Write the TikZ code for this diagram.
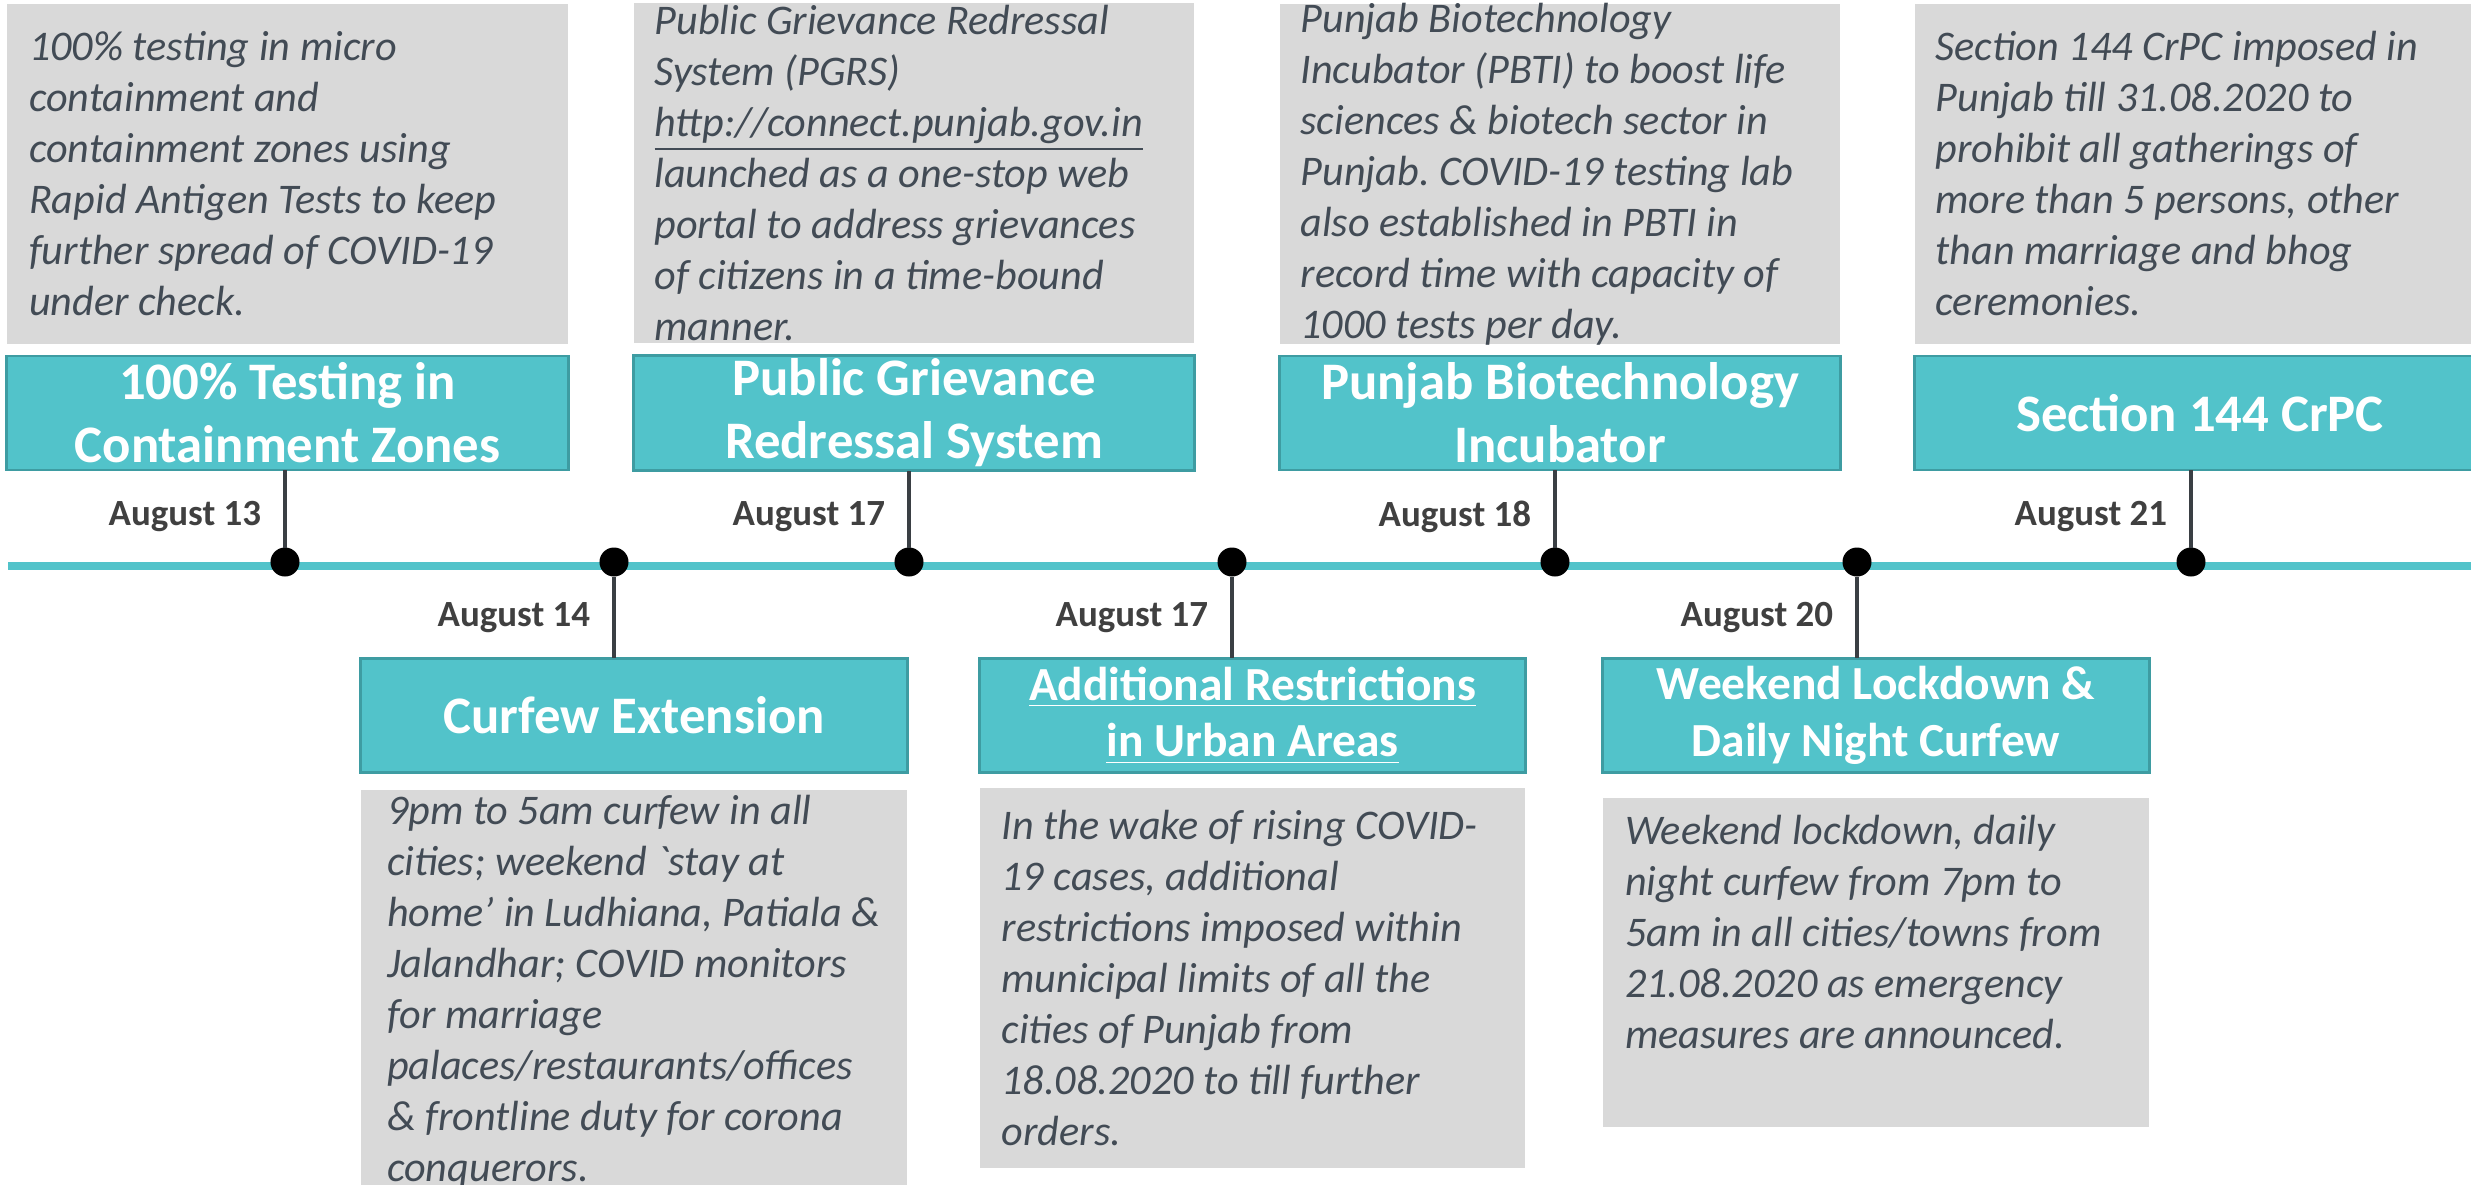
\documentclass[tikz,border=0pt]{standalone}
\usepackage{fontspec}
\setmainfont{Carlito}
\usepackage{xcolor}
\usetikzlibrary{positioning}
\frenchspacing
\definecolor{tealfill}{HTML}{52C3CA}
\definecolor{tealedge}{HTML}{3E9CA2}
\definecolor{notegrey}{HTML}{D9D9D9}
\definecolor{notetext}{HTML}{424B55}
\definecolor{datetext}{HTML}{404040}
\definecolor{stemgrey}{HTML}{3A3F44}
\tikzset{title node/.style={rectangle,fill=tealfill,draw=tealedge,line width=0.8pt,minimum height=1.14cm,
    inner sep=1pt,outer sep=0pt,align=center,text=white,font=\fontsize{15}{17.9}\selectfont\bfseries},
  small title/.style={font=\fontsize{13.5}{16.2}\selectfont\bfseries},
  note node/.style={rectangle,fill=notegrey,minimum height=3.4cm,inner sep=0pt,outer sep=0pt},
  text node/.style={inner sep=0pt,align=left,text=notetext,font=\fontsize{12}{14.5}\selectfont\itshape},
  date node/.style={inner sep=0pt,text=datetext,font=\fontsize{10.5}{12.6}\selectfont\bfseries},
  dot node/.style={circle,fill=black,minimum size=0.29cm,inner sep=0pt,outer sep=0pt},
  stem line/.style={draw=stemgrey,line width=1.1pt},
  time line/.style={draw=tealfill,line width=2pt}}

\begin{document}
\begin{tikzpicture}[x=0.01cm,y=-0.01cm]
  \useasboundingbox (0,0) rectangle (2471,1184);
  % timeline
  \draw[time line] (8,566) -- (2490,566);
  \node[dot node] (d1) at (285,562) {};
  \node[dot node] (d2) at (614,562) {};
  \node[dot node] (d3) at (909,562) {};
  \node[dot node] (d4) at (1232,562) {};
  \node[dot node] (d5) at (1555,562) {};
  \node[dot node] (d6) at (1857,562) {};
  \node[dot node] (d7) at (2191,562) {};
  % titles above
  \node[title node, minimum width=5.61cm] (t1) at (287.5,413) {100\% Testing in\\Containment Zones};
  \node[title node, minimum width=5.60cm] (t3) at (914,413) {Public Grievance\\Redressal System};
  \node[title node, minimum width=5.60cm] (t5) at (1560,413) {Punjab Biotechnology\\Incubator};
  \node[title node, minimum width=5.70cm] (t7) at (2200,413) {Section 144 CrPC};
  % titles below
  \node[title node, minimum width=5.46cm] (t2) at (634,715.5) {Curfew Extension};
  \node[title node, small title, minimum width=5.45cm] (t4) at (1252.5,715.5) {\underline{Additional Restrictions}\\\underline{in Urban Areas}};
  \node[title node, small title, minimum width=5.46cm] (t6) at (1876,715.5) {Weekend Lockdown \&\\Daily Night Curfew};
  % stems and dates
  \draw[stem line] (d1) -- (d1 |- t1.south) node[date node, midway, left=0.22cm, yshift=-0.08cm] {August 13};
  \draw[stem line] (d3) -- (d3 |- t3.south) node[date node, midway, left=0.22cm, yshift=-0.08cm] {August 17};
  \draw[stem line] (d5) -- (d5 |- t5.south) node[date node, midway, left=0.22cm, yshift=-0.08cm] {August 18};
  \draw[stem line] (d7) -- (d7 |- t7.south) node[date node, midway, left=0.22cm, yshift=-0.08cm] {August 21};
  \draw[stem line] (d2) -- (d2 |- t2.north) node[date node, midway, left=0.22cm] {August 14};
  \draw[stem line] (d4) -- (d4 |- t4.north) node[date node, midway, left=0.22cm] {August 17};
  \draw[stem line] (d6) -- (d6 |- t6.north) node[date node, midway, left=0.22cm] {August 20};
  % notes
  \node[note node, minimum width=5.60cm, above=0.12cm of t1] (n1) {};
  \node[note node, minimum width=5.60cm, above=0.12cm of t3] (n3) {};
  \node[note node, minimum width=5.60cm, above=0.12cm of t5] (n5) {};
  \node[note node, minimum width=5.70cm, above=0.12cm of t7] (n7) {};
  \node[note node, minimum width=5.45cm, minimum height=4.05cm, below=0.17cm of t2] (n2) {};
  \node[note node, minimum width=5.45cm, minimum height=3.80cm, below=0.15cm of t4] (n4) {};
  \node[note node, minimum width=5.45cm, minimum height=3.29cm, below=0.25cm of t6] (n6) {};
  \node[text node, right=0.21cm of n1.west] (x1) {100\% testing in micro\\containment and\\containment zones using\\Rapid Antigen Tests to keep\\further spread of COVID-19\\under check.};
  \node[text node, right=0.20cm of n3.west] (x3) {Public Grievance Redressal\\System (PGRS)\\\underline{http://connect.punjab.gov.in}\\launched as a one-stop web\\portal to address grievances\\of citizens in a time-bound\\manner.};
  \node[text node, right=0.20cm of n5.west] (x5) {Punjab Biotechnology\\Incubator (PBTI) to boost life\\sciences \& biotech sector in\\Punjab. COVID-19 testing lab\\also established in PBTI in\\record time with capacity of\\1000 tests per day.};
  \node[text node, right=0.20cm of n7.west] (x7) {Section 144 CrPC imposed in\\Punjab till 31.08.2020 to\\prohibit all gatherings of\\more than 5 persons, other\\than marriage and bhog\\ceremonies.};
  \node[text node, right=0.25cm of n2.west] (x2) {9pm to 5am curfew in all\\cities; weekend {\addfontfeature{Ligatures=TeXOff}\symbol{96}}stay at\\home’ in Ludhiana, Patiala \&\\Jalandhar; COVID monitors\\for marriage\\palaces/restaurants/offices\\\& frontline duty for corona\\conquerors.};
  \node[text node, right=0.21cm of n4.west] (x4) {In the wake of rising COVID-\\19 cases, additional\\restrictions imposed within\\municipal limits of all the\\cities of Punjab from\\18.08.2020 to till further\\orders.};
  \node[text node, below right=0.17cm and 0.21cm of n6.north west] (x6) {Weekend lockdown, daily\\night curfew from 7pm to\\5am in all cities/towns from\\21.08.2020 as emergency\\measures are announced.};
\end{tikzpicture}
\end{document}
